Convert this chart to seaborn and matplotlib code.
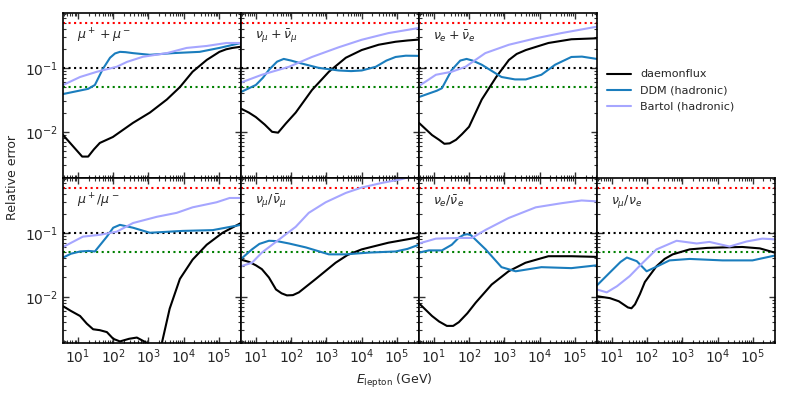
import numpy as np
import pandas as pd
import matplotlib
matplotlib.use("Agg")
import matplotlib.pyplot as plt
import matplotlib.ticker as mticker
import seaborn as sns

# panel labels, in drawing order (top row then bottom row, top-right slot holds the legend)
panels = [r"$\mu^+ + \mu^-$", r"$\nu_\mu + \bar{\nu}_\mu$", r"$\nu_e + \bar{\nu}_e$",
          r"$\mu^+/\mu^-$", r"$\nu_\mu/\bar{\nu}_\mu$", r"$\nu_e/\bar{\nu}_e$", r"$\nu_\mu/\nu_e$"]
models = ["daemonflux", "DDM (hadronic)", "Bartol (hadronic)"]
colors = {"daemonflux": "black", "DDM (hadronic)": "#1a7dbd", "Bartol (hadronic)": "#a6a6ff"}

# curves: (log10 E, relative error)
daemon_logE = [
    [0.58, 1.12, 1.29, 1.45, 1.62, 1.99, 2.56, 3.04, 3.52, 3.89, 4.25, 4.65, 5.01, 5.2, 5.38, 5.62],
    [0.58, 0.8, 1.0, 1.25, 1.46, 1.63, 1.85, 2.13, 2.59, 3.07, 3.55, 4.0, 4.48, 4.96, 5.3, 5.62],
    [0.58, 0.95, 1.15, 1.30, 1.45, 1.63, 1.8, 2.0, 2.36, 2.77, 3.13, 3.35, 3.61, 4.25, 4.9, 5.62],
    [0.58, 0.8, 1.06, 1.25, 1.43, 1.62, 1.82, 2.0, 2.19, 2.45, 2.67, 2.95, 3.15, 3.38, 3.6, 3.89, 4.25, 4.65, 5.1, 5.62],
    [0.58, 0.81, 1.0, 1.17, 1.37, 1.57, 1.73, 1.88, 2.05, 2.22, 2.70, 3.26, 3.6, 4.0, 4.76, 5.62],
    [0.58, 0.95, 1.15, 1.37, 1.55, 1.71, 1.95, 2.19, 2.64, 3.12, 3.6, 4.25, 4.9, 5.62],
    [0.58, 0.95, 1.2, 1.46, 1.56, 1.66, 1.8, 1.94, 2.27, 2.5, 2.73, 3.21, 3.7, 4.14, 4.70, 5.2, 5.62],
]
daemon_err = [
    [0.0089, 0.0041, 0.0041, 0.0053, 0.0067, 0.0083, 0.0138, 0.020, 0.032, 0.050, 0.087, 0.133, 0.178, 0.195, 0.205, 0.214],
    [0.023, 0.020, 0.017, 0.013, 0.0100, 0.0097, 0.0135, 0.020, 0.045, 0.087, 0.144, 0.19, 0.23, 0.256, 0.268, 0.277],
    [0.0138, 0.0089, 0.0075, 0.0065, 0.0066, 0.0075, 0.0092, 0.012, 0.032, 0.072, 0.133, 0.165, 0.19, 0.245, 0.28, 0.29],
    [0.0071, 0.006, 0.005, 0.0038, 0.0031, 0.003, 0.0028, 0.0022, 0.0020, 0.0022, 0.0023, 0.0019, 0.0010, 0.0019, 0.0065, 0.019, 0.038, 0.065, 0.10, 0.142],
    [0.038, 0.035, 0.031, 0.027, 0.020, 0.013, 0.0113, 0.0105, 0.0106, 0.0117, 0.019, 0.034, 0.045, 0.055, 0.07, 0.085],
    [0.0079, 0.005, 0.0041, 0.0035, 0.0035, 0.0040, 0.0055, 0.0081, 0.0155, 0.025, 0.034, 0.043, 0.043, 0.042],
    [0.0102, 0.0095, 0.0085, 0.0068, 0.0066, 0.0076, 0.011, 0.017, 0.030, 0.039, 0.046, 0.055, 0.058, 0.059, 0.060, 0.057, 0.049],
]
ddm_logE = [
    [0.58, 1.29, 1.48, 1.7, 1.91, 2.05, 2.19, 2.35, 2.56, 3.04, 3.69, 4.45, 5.01, 5.62],
    [0.58, 1.0, 1.2, 1.37, 1.6, 1.79, 2.0, 2.22, 2.78, 3.35, 3.7, 4.0, 4.4, 4.7, 4.96, 5.25, 5.62],
    [0.58, 1.09, 1.23, 1.51, 1.75, 1.93, 2.1, 2.36, 2.92, 3.3, 3.61, 4.05, 4.44, 4.9, 5.2, 5.62],
    [0.58, 0.8, 1.06, 1.3, 1.48, 1.82, 2.0, 2.19, 2.56, 3.04, 3.97, 4.82, 5.62],
    [0.58, 0.89, 1.1, 1.37, 1.6, 1.94, 2.42, 3.07, 3.55, 4.2, 4.96, 5.3, 5.62],
    [0.58, 0.86, 1.23, 1.51, 1.7, 1.85, 1.95, 2.05, 2.25, 2.47, 2.92, 3.32, 4.05, 4.9, 5.62],
    [0.58, 0.95, 1.25, 1.43, 1.71, 1.99, 2.3, 2.64, 3.21, 4.14, 4.99, 5.62],
]
ddm_err = [
    [0.039, 0.047, 0.054, 0.095, 0.144, 0.168, 0.178, 0.176, 0.17, 0.16, 0.17, 0.178, 0.205, 0.245],
    [0.042, 0.054, 0.07, 0.093, 0.125, 0.138, 0.13, 0.12, 0.10, 0.091, 0.089, 0.091, 0.104, 0.13, 0.148, 0.155, 0.154],
    [0.035, 0.044, 0.048, 0.093, 0.13, 0.138, 0.13, 0.112, 0.072, 0.066, 0.066, 0.078, 0.112, 0.148, 0.15, 0.138],
    [0.041, 0.047, 0.051, 0.052, 0.051, 0.087, 0.12, 0.133, 0.12, 0.10, 0.107, 0.11, 0.133],
    [0.039, 0.055, 0.067, 0.075, 0.074, 0.068, 0.059, 0.046, 0.046, 0.049, 0.051, 0.056, 0.065],
    [0.049, 0.053, 0.053, 0.065, 0.083, 0.093, 0.095, 0.092, 0.072, 0.055, 0.029, 0.025, 0.029, 0.028, 0.031],
    [0.015, 0.024, 0.035, 0.041, 0.036, 0.025, 0.030, 0.037, 0.039, 0.037, 0.037, 0.044],
]
bartol_logE = [
    [0.58, 1.06, 1.54, 2.10, 2.39, 2.84, 3.52, 4.08, 4.65, 5.21, 5.62],
    [0.58, 1.17, 1.94, 2.59, 3.35, 4.0, 4.76, 5.62],
    [0.58, 1.06, 1.51, 1.9, 2.46, 3.13, 3.89, 4.62, 5.62],
    [0.58, 1.14, 1.62, 2.1, 2.56, 3.24, 3.8, 4.25, 4.93, 5.3, 5.62],
    [0.58, 0.89, 1.17, 1.65, 2.13, 2.50, 2.98, 3.55, 4.0, 4.56, 5.13, 5.62],
    [0.58, 1.06, 1.71, 2.08, 2.47, 3.12, 3.89, 4.62, 5.19, 5.62],
    [0.58, 0.86, 1.15, 1.51, 1.88, 2.27, 2.84, 3.41, 3.77, 4.34, 4.82, 5.27, 5.62],
]
bartol_err = [
    [0.054, 0.072, 0.087, 0.104, 0.124, 0.149, 0.17, 0.205, 0.22, 0.245, 0.245],
    [0.059, 0.078, 0.104, 0.148, 0.21, 0.275, 0.35, 0.42],
    [0.052, 0.078, 0.087, 0.104, 0.17, 0.23, 0.29, 0.35, 0.44],
    [0.06, 0.087, 0.093, 0.104, 0.142, 0.178, 0.205, 0.25, 0.30, 0.35, 0.35],
    [0.030, 0.034, 0.049, 0.078, 0.124, 0.205, 0.30, 0.42, 0.51, 0.60, 0.69, 0.82],
    [0.068, 0.081, 0.083, 0.083, 0.111, 0.17, 0.25, 0.29, 0.32, 0.31],
    [0.013, 0.0117, 0.0146, 0.021, 0.034, 0.055, 0.075, 0.068, 0.072, 0.061, 0.073, 0.081, 0.079],
]

ref_levels = [0.5, 0.1, 0.05]
ref_colors = ["red", "black", "green"]

rows = []
for p, name in enumerate(panels):
    for model, xs, ys in [("daemonflux", daemon_logE, daemon_err),
                          ("DDM (hadronic)", ddm_logE, ddm_err),
                          ("Bartol (hadronic)", bartol_logE, bartol_err)]:
        for lx, y in zip(xs[p], ys[p]):
            rows.append({"panel": name, "model": model, "E": 10 ** lx, "err": y})
df = pd.DataFrame(rows)

sns.set_style("ticks")
plt.rcParams["font.family"] = ["DejaVu Sans"]

fig, axes = plt.subplots(2, 4, figsize=(7.89, 3.95), dpi=100, sharex=True, sharey=True)
fig.subplots_adjust(left=0.08, right=0.982, top=0.967, bottom=0.132, wspace=0, hspace=0)

slots = [axes[0, 0], axes[0, 1], axes[0, 2], axes[1, 0], axes[1, 1], axes[1, 2], axes[1, 3]]
for ax, name in zip(slots, panels):
    for lvl, c in zip(ref_levels, ref_colors):
        ax.axhline(lvl, color=c, ls=":", lw=1.5)
    sub = df[df["panel"] == name]
    sns.lineplot(data=sub, x="E", y="err", hue="model", hue_order=models, palette=colors,
                 lw=1.5, ax=ax, legend=False, estimator=None, sort=False)
    ax.set_xscale("log")
    ax.set_yscale("log")
    ax.set_xlim(3.8, 4.2e5)
    ax.set_ylim(1.9e-3, 0.72)
    ax.set_xlabel("")
    ax.set_ylabel("")
    ax.text(0.08, 0.86, name, transform=ax.transAxes, fontsize=9, va="center", ha="left")
    ax.xaxis.set_major_locator(mticker.FixedLocator([1e1, 1e2, 1e3, 1e4, 1e5]))
    ax.yaxis.set_major_locator(mticker.FixedLocator([1e-2, 1e-1]))
    ax.xaxis.set_minor_locator(mticker.LogLocator(base=10, subs=np.arange(2, 10), numticks=20))
    ax.yaxis.set_minor_locator(mticker.LogLocator(base=10, subs=np.arange(2, 10), numticks=20))
    ax.xaxis.set_minor_formatter(mticker.NullFormatter())
    ax.yaxis.set_minor_formatter(mticker.NullFormatter())
    ax.tick_params(which="both", direction="in", top=True, right=True, labelsize=10,
                   color="#333333")
    ax.tick_params(which="major", length=4, width=1)
    ax.tick_params(which="minor", length=2, width=0.8)
    for s in ax.spines.values():
        s.set_linewidth(1.2)
        s.set_color("black")

axes[0, 3].axis("off")
handles = [plt.Line2D([], [], color=colors[m], lw=1.5) for m in models]
axes[0, 3].legend(handles, models, loc="center left", bbox_to_anchor=(0.0, 0.53),
                  frameon=False, fontsize=8, labelspacing=0.55, handlelength=2.2)

fig.text(0.5, 0.035, r"$E_{\rm lepton}$ (GeV)", ha="center", va="center", fontsize=9)
fig.text(0.016, 0.55, "Relative error", rotation=90, ha="center", va="center", fontsize=9)

fig.savefig("out.png", dpi=100)
